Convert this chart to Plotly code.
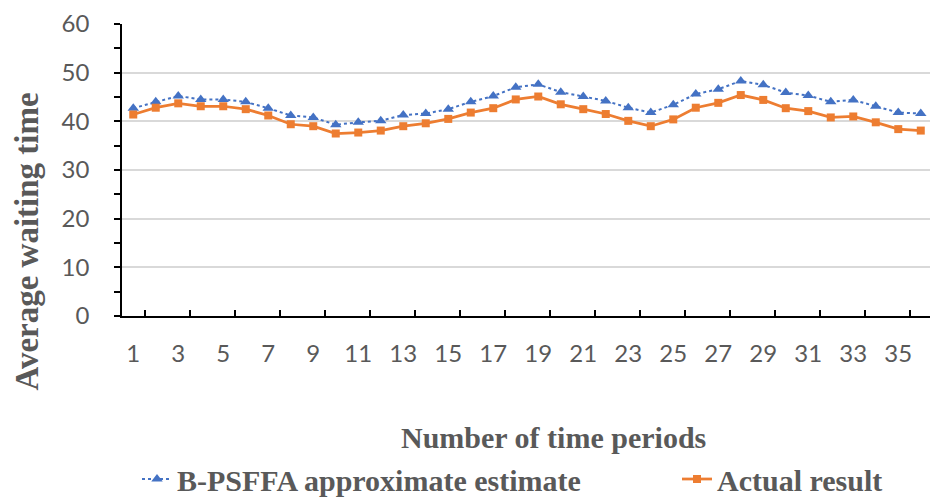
import plotly.graph_objects as go

periods = list(range(1, 37))
estimate = [42.7, 44.0, 45.2, 44.5, 44.5, 44.0, 42.7, 41.2, 40.8, 39.3, 39.8, 40.1,
            41.3, 41.6, 42.5, 44.0, 45.2, 47.0, 47.6, 46.0, 45.1, 44.2, 42.8, 41.8,
            43.4, 45.6, 46.6, 48.3, 47.5, 45.9, 45.3, 44.0, 44.4, 43.1, 41.8, 41.6]
actual = [41.4, 42.8, 43.7, 43.1, 43.1, 42.5, 41.2, 39.4, 39.0, 37.5, 37.7, 38.1,
          39.0, 39.6, 40.5, 41.8, 42.7, 44.5, 45.1, 43.5, 42.5, 41.5, 40.1, 39.0,
          40.4, 42.8, 43.8, 45.4, 44.4, 42.7, 42.1, 40.8, 41.0, 39.8, 38.4, 38.1]
x_ticks = list(range(1, 37, 2))
y_ticks = [0, 10, 20, 30, 40, 50, 60]

names = ["B-PSFFA approximate estimate", "Actual result"]
title_x = "Number of time periods"
title_y = "Average waiting time"

BLUE = "#4472C4"
ORANGE = "#ED7D31"
GRAY = "#595959"
serif = "Liberation Serif"
sans = "Lato"

fig = go.Figure()
fig.add_trace(go.Scatter(
    x=periods, y=estimate, name=names[0], mode="lines+markers", legend="legend",
    line=dict(color=BLUE, width=2, dash="dot"),
    marker=dict(symbol="triangle-up", size=10, color=BLUE)))
fig.add_trace(go.Scatter(
    x=periods, y=actual, name=names[1], mode="lines+markers", legend="legend2",
    line=dict(color=ORANGE, width=2.75),
    marker=dict(symbol="square", size=8, color=ORANGE)))

L, T, B = 122, 24, 182
W, H = 930, 498
pw = W - L
ph = H - T - B

legend_font = dict(family=serif, size=30, color=GRAY, weight="bold")

fig.update_layout(
    width=W, height=H,
    margin=dict(l=L, r=0, t=T, b=B, pad=0, autoexpand=False),
    paper_bgcolor="white", plot_bgcolor="white",
    showlegend=True,
    legend=dict(orientation="h", x=(137 - L) / pw, xanchor="left",
                y=(316 - 479) / ph, yanchor="middle", font=legend_font,
                bgcolor="rgba(0,0,0,0)", itemclick=False),
    legend2=dict(orientation="h", x=(677 - L) / pw, xanchor="left",
                 y=(316 - 479) / ph, yanchor="middle", font=legend_font,
                 bgcolor="rgba(0,0,0,0)", itemclick=False),
    xaxis=dict(range=[0.5, 36.41], tickvals=x_ticks, ticks="",
               showgrid=False, zeroline=False,
               showline=True, linecolor="black", linewidth=1.5,
               tickfont=dict(family=sans, size=24, color=GRAY),
               ticklabelstandoff=15,
               minor=dict(tick0=1.5, dtick=2, ticks="inside", ticklen=6,
                          tickcolor="black", tickwidth=1.5, showgrid=False)),
    yaxis=dict(range=[0, 60], tickvals=y_ticks, ticks="outside", ticklen=6,
               tickcolor="black", tickwidth=1.5,
               showgrid=True, gridcolor="#D9D9D9", gridwidth=1.5,
               zeroline=False, showline=True, linecolor="black", linewidth=1.5,
               tickfont=dict(family=sans, size=24, color=GRAY),
               ticklabelstandoff=20,
               minor=dict(dtick=5, ticks="outside", ticklen=6,
                          tickcolor="black", tickwidth=1.5, showgrid=False)),
    annotations=[
        dict(text=title_y, xref="paper", yref="paper",
             x=(26.5 - L) / pw, y=(316 - 242) / ph, xanchor="center", yanchor="middle",
             textangle=-90, showarrow=False,
             font=dict(family=serif, size=33, color=GRAY, weight="bold")),
        dict(text=title_x, xref="paper", yref="paper",
             x=(553 - L) / pw, y=(316 - 437) / ph, xanchor="center", yanchor="middle",
             showarrow=False,
             font=dict(family=serif, size=30, color=GRAY, weight="bold")),
    ],
)

fig.write_html("out.html")
